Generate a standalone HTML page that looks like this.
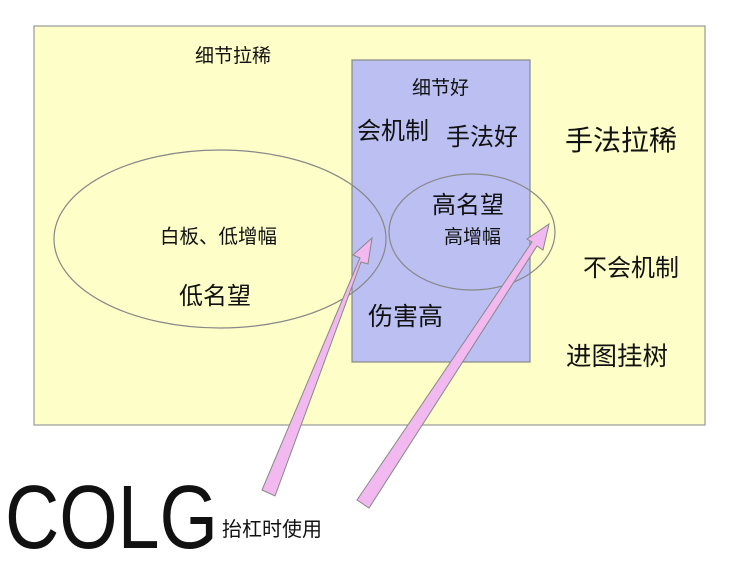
<!DOCTYPE html>
<html><head><meta charset="utf-8"><style>
body{margin:0;background:#fff}
svg{display:block}
text{font-family:"Liberation Sans","Noto Sans CJK SC",sans-serif;fill:#111}
</style></head><body>
<svg width="750" height="574" viewBox="0 0 750 574">
<rect x="34" y="26" width="671" height="399" fill="#fefec8" stroke="#999" stroke-width="1.2"/>
<rect x="352" y="60" width="178" height="302" fill="#bbbff2" stroke="#888" stroke-width="1.2"/>
<ellipse cx="220" cy="239" rx="166" ry="89" fill="none" stroke="#888" stroke-width="1.2"/>
<ellipse cx="472" cy="232" rx="83" ry="58" fill="none" stroke="#888" stroke-width="1.2"/>
<text x="195" y="62" font-size="19">细节拉稀</text>
<text x="412" y="94" font-size="19">细节好</text>
<text x="357" y="139" font-size="24">会机制</text>
<text x="446" y="145" font-size="24">手法好</text>
<text x="565" y="150" font-size="28">手法拉稀</text>
<text x="432" y="213" font-size="24">高名望</text>
<text x="444" y="243" font-size="19">高增幅</text>
<text x="160" y="243" font-size="19.5">白板、低增幅</text>
<text x="179" y="304" font-size="24">低名望</text>
<text x="368" y="325" font-size="25">伤害高</text>
<text x="583" y="276" font-size="24">不会机制</text>
<text x="566" y="365" font-size="25.5">进图挂树</text>
<g fill="#f2b8f0" stroke="#888" stroke-width="1">
<polygon points="262,490 275,496 361,262 368,264 372,238 353,255 360,258"/>
<polygon points="357,500 369,508 537,246 543,250 549,224 527,239 532,242"/>
</g>
<text x="5" y="548" font-size="90" textLength="213" lengthAdjust="spacingAndGlyphs" fill="#000">COLG</text>
<text x="222" y="536" font-size="20">抬杠时使用</text>
</svg>
</body></html>
